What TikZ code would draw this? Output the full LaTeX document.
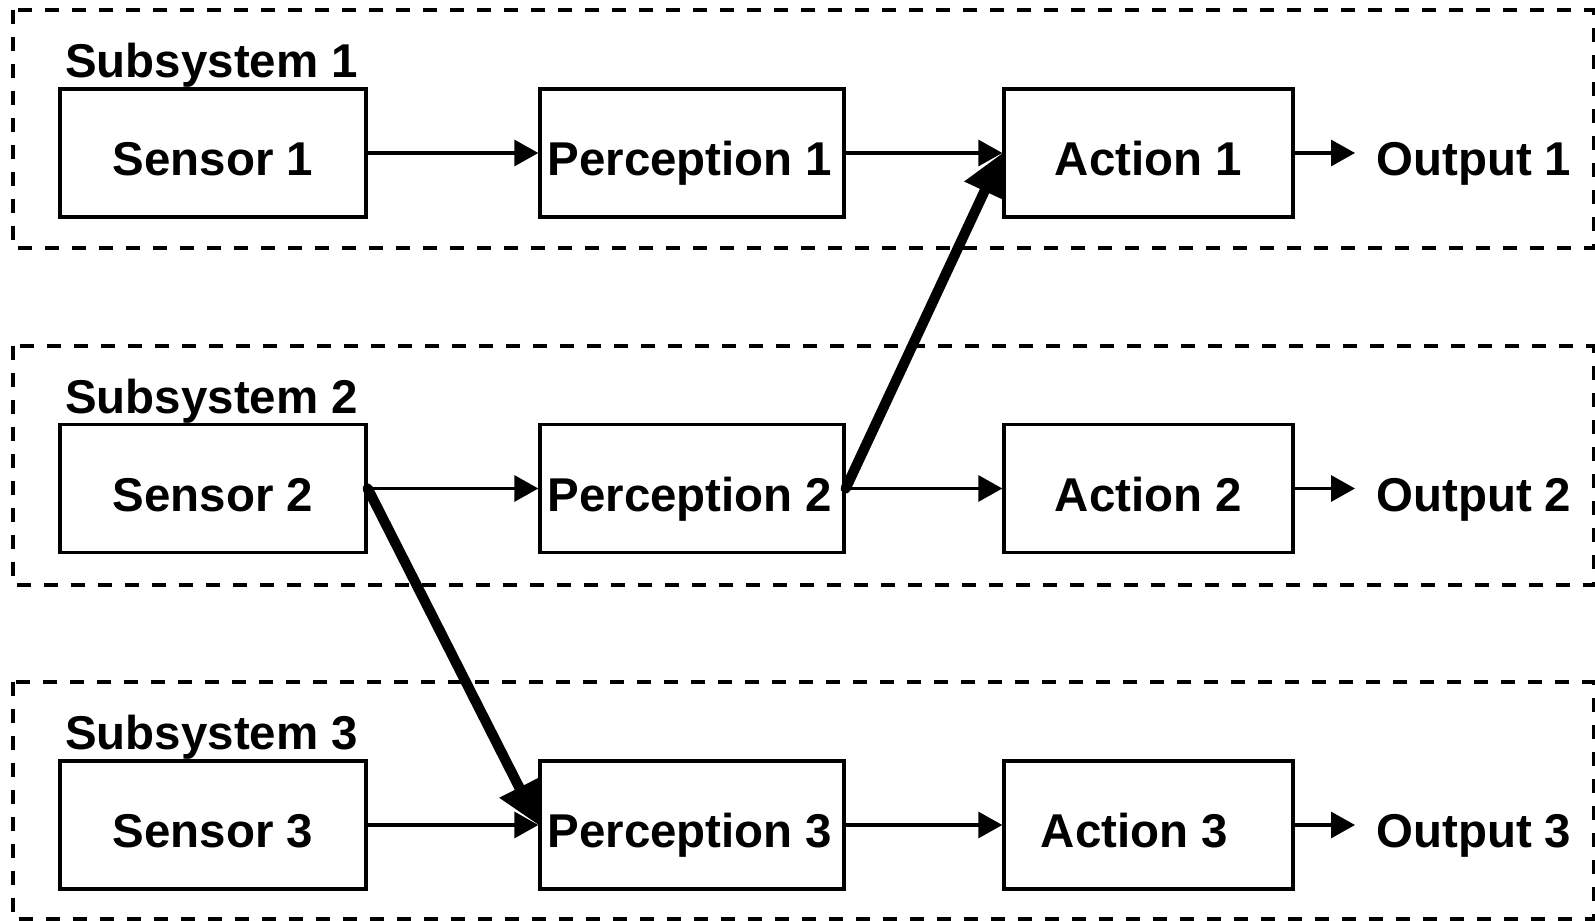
\documentclass[tikz,border=0pt]{standalone}
\usepackage{fontspec}
\setmainfont{Liberation Sans}
\usetikzlibrary{arrows.meta}

\tikzset{
  lbl/.style={font=\bfseries\fontsize{27}{32}\selectfont},
  txt/.style={lbl, text height=0.92cm, text depth=0pt},
  blk/.style={txt, draw, line width=1.9pt, minimum height=2.56cm, inner sep=0pt},
  frame/.style={line width=1.9pt, dash pattern=on 0.28cm off 0.26cm},
  flow/.style={line width=1.8pt, -{Triangle[length=0.48cm,width=0.52cm]}},
  cross/.style={line width=5.8pt, line cap=round, -{Triangle[length=0.84cm,width=0.84cm]}}
}

\begin{document}
\begin{tikzpicture}[x=2cm,y=2cm]
        \useasboundingbox (0,0) rectangle (15.95,9.21);

        % the three subsystems
        \draw [frame] (0.13,9.11) rectangle (15.935,6.73);
        \draw [frame] (0.13,5.75) rectangle (15.935,3.36);
        \draw [frame] (0.13,2.39) rectangle (15.935,0.02);
        \node [lbl,anchor=base west,inner sep=0pt] (sub1) at (0.65,8.43) {Subsystem 1};
        \node [lbl,anchor=base west,inner sep=0pt] (sub2) at (0.65,5.07) {Subsystem 2};
        \node [lbl,anchor=base west,inner sep=0pt] (sub3) at (0.65,1.71) {Subsystem 3};

        \node [blk,minimum width=6.12cm] (s1) at (2.13,7.68) {Sensor 1};
        \node [blk,minimum width=6.08cm] (p1) at (6.92,7.68) {Perception 1\kern0.08cm};
        \node [blk,minimum width=5.78cm] (a1) at (11.485,7.68) {Action 1};
        \node [txt,anchor=west,inner xsep=0.42cm,inner ysep=0pt] (o1) at (13.55,7.68) {Output 1};

        \node [blk,minimum width=6.12cm] (s2) at (2.13,4.325) {Sensor 2};
        \node [blk,minimum width=6.08cm] (p2) at (6.92,4.325) {Perception 2\kern0.08cm};
        \node [blk,minimum width=5.78cm] (a2) at (11.485,4.325) {Action 2};
        \node [txt,anchor=west,inner xsep=0.42cm,inner ysep=0pt] (o2) at (13.55,4.325) {Output 2};

        \node [blk,minimum width=6.12cm] (s3) at (2.13,0.96) {Sensor 3};
        \node [blk,minimum width=6.08cm] (p3) at (6.92,0.96) {Perception 3\kern0.08cm};
        \node [blk,minimum width=5.78cm] (a3) at (11.485,0.96) {Action 3\kern0.56cm};
        \node [txt,anchor=west,inner xsep=0.42cm,inner ysep=0pt] (o3) at (13.55,0.96) {Output 3};

        \draw [flow] (s1.east) -- (p1.west);
        \draw [flow] (p1.east) -- (a1.west);
        \draw [flow] (a1.east) -- (o1.west);
        \draw [flow] (s2.east) -- (p2.west);
        \draw [flow] (p2.east) -- (a2.west);
        \draw [flow] (a2.east) -- (o2.west);
        \draw [flow] (s3.east) -- (p3.west);
        \draw [flow] (p3.east) -- (a3.west);
        \draw [flow] (a3.east) -- (o3.west);

        % links between subsystems
        \draw [cross] (p2.east) -- (a1.west);
        \draw [cross] (s2.east) -- (p3.west);
\end{tikzpicture}
\end{document}
